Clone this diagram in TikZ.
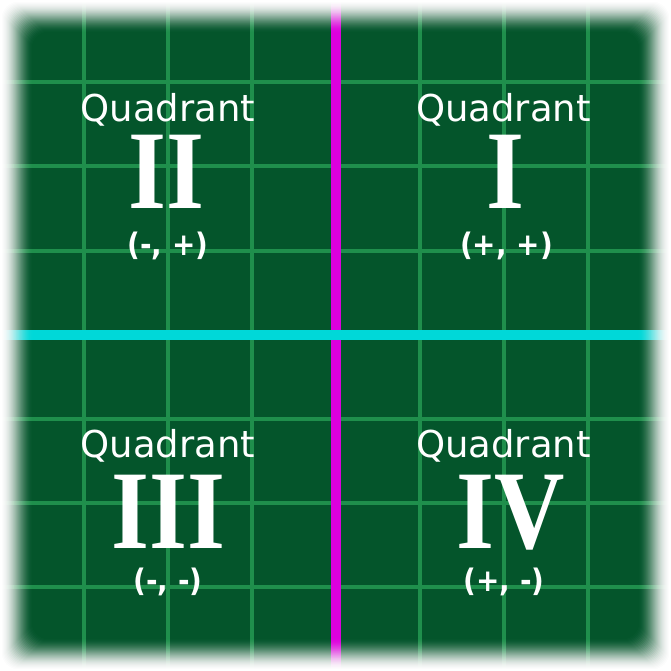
\documentclass[tikz,border=0pt]{standalone}
\usepackage{fontspec}
\newfontfamily\wordfont{DejaVu Sans}
\newfontfamily\numeralfont[FakeStretch=0.87]{Liberation Serif Bold}
\newfontfamily\signfont[FakeStretch=0.9]{DejaVu Sans Bold}
\definecolor{board}{HTML}{04552B}
\definecolor{gridline}{HTML}{1F8F4C}
\definecolor{yaxis}{HTML}{DD00DD}
\definecolor{xaxis}{HTML}{00D8D8}

\tikzset{
  quad_word/.style={text=white, anchor=base, inner sep=0pt, text height=27pt, text depth=2pt,
    font=\wordfont\fontsize{37}{37}\selectfont},
  quad_num/.style={text=white, anchor=base, inner sep=0pt, text height=74pt, text depth=0pt,
    font=\numeralfont\fontsize{112}{112}\selectfont},
  quad_sign/.style={text=white, anchor=base, inner sep=0pt, text height=24pt, text depth=5pt,
    font=\signfont\fontsize{31}{31}\selectfont},
}

\begin{document}
\begin{tikzpicture}[x=1pt, y=-1pt]
\useasboundingbox (0,0) rectangle (671,671);

\def\cellsize{84};
\def\fadein{2};
\def\fadeout{34};

\coordinate (y_top) at (335.5,-10);
\coordinate (y_bottom) at (335.5,681);
\coordinate (x_left) at (-10,334.5);
\coordinate (x_right) at (681,334.5);

% board and grid
\fill[board] (-10,-10) rectangle (681,681);
\foreach \k in {-4,...,4}{
  \draw[gridline, line width=4pt] (335.5+\k*\cellsize,-10) -- (335.5+\k*\cellsize,681);
  \draw[gridline, line width=4pt] (-10,334.5+\k*\cellsize) -- (681,334.5+\k*\cellsize);
}

% axes
\draw[yaxis, line width=10pt] (y_top) -- (y_bottom);
\draw[xaxis, line width=10pt] (x_left) -- (x_right);

% quadrant I
\node[quad_word] (word_one) at (503.5,122) {Quadrant};
\node[quad_num] (num_one) at (505.5,208) {I};
\node[quad_sign] (sign_one) at (506.5,255) {(+, +)};

% quadrant II
\node[quad_word] (word_two) at (168,122) {Quadrant};
\node[quad_num] (num_two) at (166.5,208) {II};
\node[quad_sign] (sign_two) at (168,255) {(-, +)};

% quadrant III
\node[quad_word] (word_three) at (168,457) {Quadrant};
\node[quad_num] (num_three) at (168.5,548) {III};
\node[quad_sign] (sign_three) at (168,591) {(-, -)};

% quadrant IV
\node[quad_word] (word_four) at (503.5,457) {Quadrant};
\node[quad_num] (num_four) at (510.5,548) {IV};
\node[quad_sign] (sign_four) at (504,591) {(+, -)};

% soft white edge (smoothstep from \fadein to \fadeout)
\foreach \d in {2,...,\fadeout}{
  \pgfmathsetmacro\ta{max(0,min(1,(\d-0.5-\fadein)/(\fadeout-\fadein)))}
  \pgfmathsetmacro\tb{max(0,min(1,(\d+0.5-\fadein)/(\fadeout-\fadein)))}
  \pgfmathsetmacro\fadeop{1-(\ta*\ta*(3-2*\ta))/(\tb*\tb*(3-2*\tb))}
  \fill[white, opacity=\fadeop, even odd rule, rounded corners=16pt]
    (-30,-30) rectangle (701,701) (\d,\d) rectangle (671-\d,671-\d);
}

\end{tikzpicture}
\end{document}
